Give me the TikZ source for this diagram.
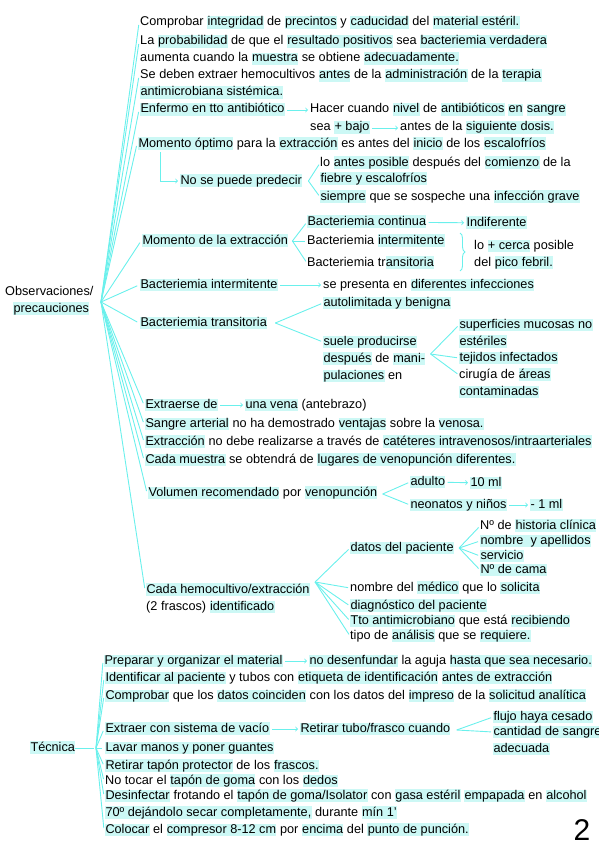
\documentclass[tikz,border=0pt]{standalone}
\usepackage{fontspec}
\setmainfont{Liberation Sans}
\usetikzlibrary{decorations.pathreplacing}

\definecolor{lineblue}{HTML}{6AF0EC}
\definecolor{hlblue}{HTML}{CCF8F5}
\newcommand\hl[1]{{\setlength{\fboxsep}{0.3pt}\colorbox{hlblue}{\vphantom{Ag}#1}}}

\begin{document}
\begin{tikzpicture}[x=1pt,y=-1pt,thin,>=to,
			every node/.style={font=\fontsize{12.7}{14}\selectfont,inner sep=0pt,text height=9pt,text depth=3pt},
			txt/.style={anchor=base west},
			link/.style={draw=lineblue,line width=0.9pt},
			goes/.style={link,->,shorten <=2pt,shorten >=2pt},
			fan/.style={link,shorten >=2pt}
			]
		\useasboundingbox (0,0) rectangle (599,848);

		% Observaciones / precauciones
		\node [txt] (obsa) at (5,295) {Observaciones/};
		\node [txt] (obsb) at (13,312) {\hl{precauciones}};
		\coordinate (oj) at (101,302);

		\node [txt] (o1) at (140,26) {Comprobar \hl{integridad} de \hl{precintos} y \hl{caducidad} del \hl{material estéril.}};
		\node [txt] (o2) at (140,45) {La \hl{probabilidad} de que el \hl{resultado positivos} sea \hl{bacteriemia verdadera}};
		\node [txt] (o2b) at (140,62) {aumenta cuando la \hl{muestra} se obtiene \hl{adecuadamente.}};
		\node [txt] (o3) at (140,79) {Se deben extraer hemocultivos \hl{antes} de la \hl{administración} de la \hl{terapia}};
		\node [txt] (o3b) at (140,96) {\hl{antimicrobiana sistémica.}};
		\node [txt] (o4) at (140,113) {\hl{Enfermo en tto antibiótico}};
		\node [txt] (o4a) at (310,113) {Hacer cuando \hl{nivel} de \hl{antibióticos} \hl{en} \hl{sangre}};
		\node [txt] (o4b) at (310,131) {sea \hl{+ bajo}};
		\node [txt] (o4c) at (400,131) {antes de la \hl{siguiente dosis.}};
		\node [txt] (o5) at (138,147) {\hl{Momento óptimo} para la \hl{extracción} es antes del \hl{inicio} de los \hl{escalofríos}};
		\node [txt] (o5n) at (180,184) {\hl{No se puede predecir}};
		\coordinate (o5j) at ([xshift=6pt]o5n.east);
		\node [txt] (o5a) at (320,166) {lo \hl{antes posible} después del \hl{comienzo} de la};
		\node [txt] (o5b) at (320,182) {\hl{fiebre y escalofríos}};
		\node [txt] (o5c) at (320,200) {\hl{siempre} que se sospeche una \hl{infección grave}};

		\node [txt] (o6) at (142,244) {\hl{Momento de la extracción}};
		\coordinate (o6j) at ([xshift=4pt]o6.east);
		\node [txt] (bc) at (307,225) {\hl{Bacteriemia continua}};
		\node [txt] (bi) at (307,244) {Bacteriemia \hl{intermitente}};
		\node [txt] (bt) at (307,266) {Bacteriemia tr\hl{ansitoria}};
		\node [txt] (ind) at (466,226) {\hl{Indiferente}};
		\coordinate (brt) at (460,233);
		\coordinate (brb) at (460,271);
		\node [txt] (pf1) at (474,249) {lo \hl{+ cerca} posible};
		\node [txt] (pf2) at (474,266) {del \hl{pico febril.}};

		\node [txt] (o7) at (140,288) {\hl{Bacteriemia intermitente}};
		\node [txt] (o7a) at (323,288) {se presenta en \hl{diferentes infecciones}};
		\node [txt] (o8) at (140,326) {\hl{Bacteriemia transitoria}};
		\coordinate (o8j) at ([xshift=8pt]o8.east);
		\node [txt] (o8a) at (323,306) {\hl{autolimitada y benigna}};
		\node [txt] (sp1) at (323,345) {\hl{suele producirse}};
		\node [txt] (sp2) at (323,362) {\hl{después} de \hl{mani-}};
		\node [txt] (sp3) at (323,379) {\hl{pulaciones} en};
		\coordinate (spj) at ([xshift=5pt,yshift=5pt]sp2.east);
		\node [txt] (m1) at (459,328) {\hl{superficies mucosas no}};
		\node [txt] (m1b) at (459,345) {\hl{estériles}};
		\node [txt] (m2) at (459,361) {\hl{tejidos infectados}};
		\node [txt] (m3) at (459,378) {cirugía de \hl{áreas}};
		\node [txt] (m3b) at (459,395) {\hl{contaminadas}};

		\node [txt] (o9) at (145,408) {\hl{Extraerse de}};
		\node [txt] (o9a) at (245,408) {\hl{una vena} (antebrazo)};
		\node [txt] (o10) at (145,427) {\hl{Sangre arterial} no ha demostrado \hl{ventajas} sobre la \hl{venosa.}};
		\node [txt] (o11) at (145,445) {\hl{Extracción} no debe realizarse a través de \hl{catéteres intravenosos/intraarteriales}};
		\node [txt] (o12) at (145,463) {\hl{Cada muestra} se obtendrá de \hl{lugares de venopunción diferentes.}};
		\node [txt] (o13) at (148,496) {\hl{Volumen recomendado} por \hl{venopunción}};
		\coordinate (o13j) at ([xshift=5pt,yshift=-1pt]o13.east);
		\node [txt] (ad) at (410,485) {\hl{adulto}};
		\node [txt] (ad1) at (470,486) {\hl{10 ml}};
		\node [txt] (ni) at (410,508) {\hl{neonatos y niños}};
		\node [txt] (ni1) at (530,508) {\hl{- 1 ml}};

		\node [txt] (o14) at (146,593) {\hl{Cada hemocultivo/extracción}};
		\node [txt] (o14b) at (146,610) {(2 frascos) \hl{identificado}};
		\coordinate (o14j) at ([xshift=5pt,yshift=8pt]o14.east);
		\node [txt] (dp) at (350,551) {\hl{datos del paciente}};
		\coordinate (dpj) at ([xshift=5pt]dp.east);
		\node [txt] (dp1) at (480,529) {Nº de \hl{historia clínica}};
		\node [txt] (dp2) at (480,544) {\hl{nombre\ \ y apellidos}};
		\node [txt] (dp3) at (480,559) {\hl{servicio}};
		\node [txt] (dp4) at (480,573) {\hl{Nº de cama}};
		\node [txt] (id1) at (350,591) {nombre del \hl{médico} que lo \hl{solicita}};
		\node [txt] (id2) at (350,609) {\hl{diagnóstico del paciente}};
		\node [txt] (id3) at (350,624) {\hl{Tto antimicrobiano} que está \hl{recibiendo}};
		\node [txt] (id4) at (350,639) {tipo de \hl{análisis} que se \hl{requiere.}};

		% Tecnica
		\node [txt] (tec) at (30,751) {\hl{Técnica}};
		\coordinate (tj) at (96,748);
		\node [txt] (t1) at (104,664) {\hl{Preparar y organizar el material}};
		\node [txt] (t1a) at (309,664) {\hl{no desenfundar} la aguja \hl{hasta que sea necesario.}};
		\node [txt] (t2) at (105,681) {\hl{Identificar al paciente} y tubos con \hl{etiqueta de identificación} \hl{antes de extracción}};
		\node [txt] (t3) at (105,699) {\hl{Comprobar} que los \hl{datos coinciden} con los datos del \hl{impreso} de la \hl{solicitud analítica}};
		\node [txt] (t4) at (105,732) {\hl{Extraer con sistema de vacío}};
		\node [txt] (t4a) at (300,732) {\hl{Retirar tubo/frasco cuando}};
		\coordinate (t4j) at ([xshift=6pt,yshift=-1pt]t4a.east);
		\node [txt] (fl1) at (493,720) {\hl{flujo haya cesado}};
		\node [txt] (fl2) at (493,735) {\hl{cantidad de sangre}};
		\node [txt] (fl3) at (493,752) {\hl{adecuada}};
		\node [txt] (t5) at (105,751) {\hl{Lavar manos y poner guantes}};
		\node [txt] (t6) at (105,769) {\hl{Retirar tapón protector} de los \hl{frascos.}};
		\node [txt] (t7) at (105,784) {No tocar el \hl{tapón de goma} con los \hl{dedos}};
		\node [txt] (t8) at (105,799) {\hl{Desinfectar} frotando el \hl{tapón de goma/Isolator} con \hl{gasa estéril} \hl{empapada} en \hl{alcohol}};
		\node [txt] (t8b) at (105,816) {\hl{70º dejándolo secar completamente,} durante \hl{mín 1'}};
		\node [txt] (t9) at (105,833) {\hl{Colocar} el \hl{compresor 8-12 cm} por \hl{encima} del \hl{punto de punción.}};

		\node [anchor=base,font=\fontsize{30}{30}\selectfont,text height=22pt,text depth=0pt] (pg) at (582,840) {2};

		% connectors
		\foreach \c in {o1,o2,o3,o4,o5,o6,o7,o8,o9,o10,o11,o12,o13,o14}
			\draw [fan] (oj) -- ([xshift=-1pt]\c.west);
		\draw [goes] (o4) -- (o4a);
		\draw [goes] (o4b) -- (o4c);
		\draw [goes] ([xshift=22pt]o5.south west) |- (o5n.west);
		\draw [fan] (o5j) -- (o5a.west);
		\draw [fan] (o5j) -- (o5c.west);
		\foreach \c in {bc,bi,bt}
			\draw [fan] (o6j) -- (\c.west);
		\draw [goes] (bc) -- (ind);
		\draw [link,decorate,decoration={brace,amplitude=5pt}] (brt) -- (brb);
		\draw [goes] (o7) -- (o7a);
		\draw [fan] (o8j) -- (o8a.west);
		\draw [fan] (o8j) -- (sp1.west);
		\foreach \c in {m1,m2,m3}
			\draw [fan] (spj) -- (\c.west);
		\draw [goes] (o9) -- (o9a);
		\draw [fan] (o13j) -- (ad.west);
		\draw [fan] (o13j) -- (ni.west);
		\draw [goes] (ad) -- (ad1);
		\draw [goes] (ni) -- (ni1);
		\foreach \c in {dp,id1,id2,id3,id4}
			\draw [fan] (o14j) -- (\c.west);
		\foreach \c in {dp1,dp2,dp3,dp4}
			\draw [fan] (dpj) -- (\c.west);
		\draw [fan] (tec.east) -- (tj);
		\foreach \c in {t1,t2,t3,t4,t5,t6,t7,t8,t9}
			\draw [fan] (tj) -- ([xshift=-1pt]\c.west);
		\draw [goes] (t1) -- (t1a);
		\draw [goes] (t4) -- (t4a);
		\foreach \c in {fl1,fl2}
			\draw [fan] (t4j) -- (\c.west);

		\end{tikzpicture}
\end{document}
